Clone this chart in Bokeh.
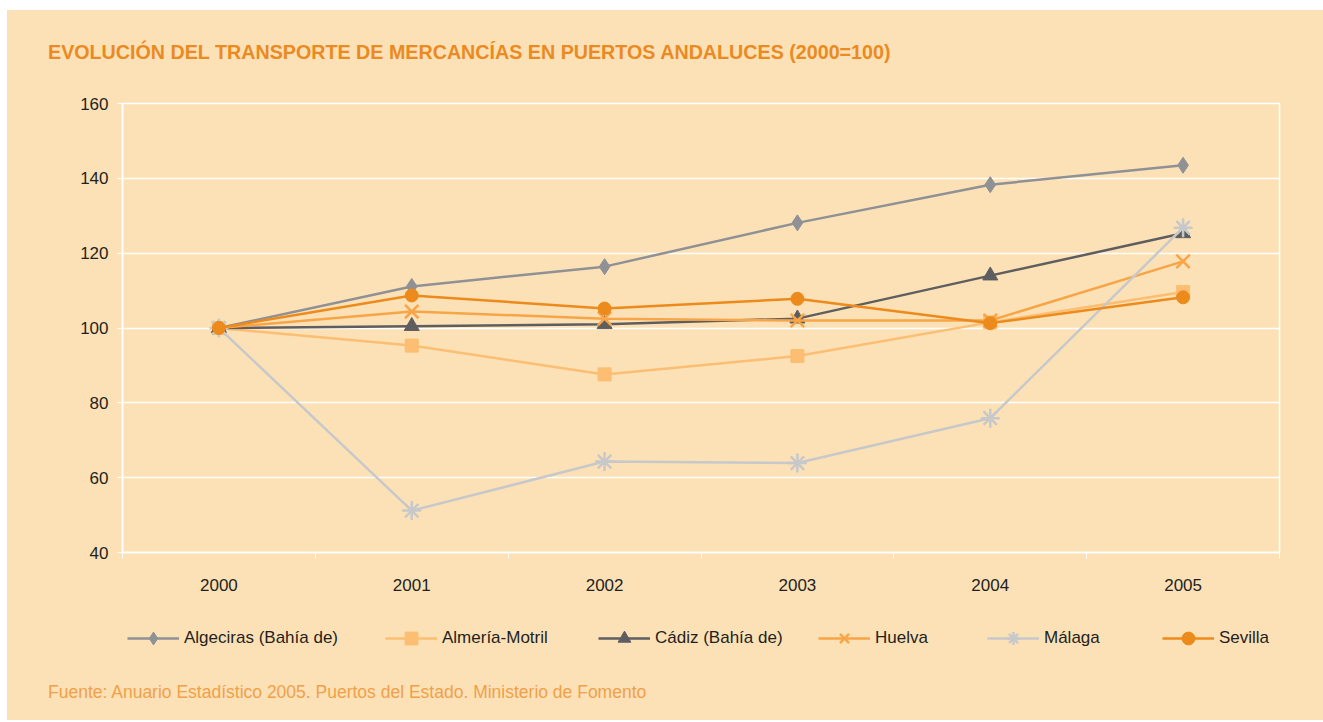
from bokeh.plotting import figure
from bokeh.layouts import column
from bokeh.models import FixedTicker, Legend, LegendItem, Range1d, Div
from bokeh.embed import file_html
from bokeh.resources import INLINE

years = [2000, 2001, 2002, 2003, 2004, 2005]
year_labels = ["2000", "2001", "2002", "2003", "2004", "2005"]
algeciras = [100, 111.1, 116.4, 128.1, 138.3, 143.5]
almeria = [100, 95.3, 87.6, 92.5, 101.5, 109.6]
cadiz = [100, 100.5, 101.0, 102.5, 114.0, 125.3]
huelva = [100, 104.4, 102.5, 102.0, 102.0, 117.8]
malaga = [100, 51.2, 64.3, 63.9, 75.9, 126.8]
sevilla = [100, 108.7, 105.2, 107.8, 101.3, 108.2]
y_ticks = [40, 60, 80, 100, 120, 140, 160]
title_text = "EVOLUCIÓN DEL TRANSPORTE DE MERCANCÍAS EN PUERTOS ANDALUCES (2000=100)"
source_text = "Fuente: Anuario Estadístico 2005. Puertos del Estado. Ministerio de Fomento"

BG = "#FDE1B6"
FONT = "Liberation Sans"
W = 1316
H_HEAD, H_MAIN, H_LEG, H_FOOT = 83, 507, 60, 60
ML, MR = 115, 44
# horizontal offsets (px from the plot frame's left edge) of the legend entries
LEGEND_X = [5, 263, 476, 696, 865, 1040]

head = Div(width=W, height=H_HEAD, margin=0,
           text=('<div style="width:%dpx;height:%dpx;box-sizing:border-box;padding:30px 0 0 41px;'
                 'background:%s;font-family:\'%s\';font-size:19.7px;font-weight:bold;'
                 'line-height:24px;color:#EA8A22;white-space:nowrap;">%s</div>'
                 % (W, H_HEAD, BG, FONT, title_text)))

p = figure(width=W, height=H_MAIN, output_backend="svg", toolbar_location=None,
           x_range=Range1d(1999.5, 2005.5), y_range=Range1d(40, 160),
           min_border_left=ML, min_border_right=MR, min_border_top=10, min_border_bottom=48)
p.background_fill_color = None
p.border_fill_color = BG
p.outline_line_color = "white"
p.outline_line_width = 1.5

p.xgrid.visible = False
p.ygrid.grid_line_color = "white"
p.ygrid.grid_line_width = 1.5
p.ygrid.ticker = FixedTicker(ticks=y_ticks)

p.xaxis.ticker = FixedTicker(ticks=years, minor_ticks=[y + 0.5 for y in [1999] + years])
p.xaxis.major_label_overrides = {y: l for y, l in zip(years, year_labels)}
p.yaxis.ticker = FixedTicker(ticks=y_ticks)
for ax in (p.xaxis[0], p.yaxis[0]):
    ax.axis_line_color = "white"
    ax.axis_line_width = 1.5
    ax.major_tick_line_color = "white"
    ax.minor_tick_line_color = "white"
    ax.major_label_text_font = FONT
    ax.major_label_text_font_size = "17px"
    ax.major_label_text_color = "#231F20"
p.xaxis.major_tick_out = 0
p.xaxis.major_tick_in = 0
p.xaxis.minor_tick_out = 6
p.xaxis.minor_tick_in = 0
p.xaxis.major_label_standoff = 20
p.yaxis.major_tick_out = 5
p.yaxis.major_tick_in = 0
p.yaxis.minor_tick_out = 0
p.yaxis.minor_tick_in = 0
p.yaxis.major_label_standoff = 9

series = [
    ("Algeciras (Bahía de)", algeciras, "#8F9194", "diamond", 16),
    ("Almería-Motril", almeria, "#FBBE72", "square", 13),
    ("Cádiz (Bahía de)", cadiz, "#5E5E60", "triangle", 15),
    ("Huelva", huelva, "#F7A547", "x", 19),
    ("Málaga", malaga, "#C7C8CA", "asterisk", 19),
    ("Sevilla", sevilla, "#EC8A1C", "circle", 13),
]

# legend strip: same series drawn into a frame whose y-range excludes them
leg = figure(width=W, height=H_LEG, output_backend="svg", toolbar_location=None,
             x_range=Range1d(1999.5, 2005.5), y_range=Range1d(0, 1),
             min_border_left=ML, min_border_right=MR, min_border_top=0, min_border_bottom=0)
leg.axis.visible = False
leg.grid.visible = False
leg.outline_line_color = None
leg.background_fill_color = None
leg.border_fill_color = BG

for (name, vals, col, mk, sz), lx in zip(series, LEGEND_X):
    kw = dict(size=sz, marker=mk, line_color=col, fill_color=col)
    if mk in ("x", "asterisk"):
        kw["line_width"] = 2.5
    p.line(years, vals, line_color=col, line_width=2.5)
    p.scatter(years, vals, **kw)
    l1 = leg.line(years, vals, line_color=col, line_width=2.5)
    l2 = leg.scatter(years, vals, **kw)
    lg = Legend(items=[LegendItem(label=name, renderers=[l1, l2])],
                location=(lx, H_LEG - 38 - 16),
                background_fill_alpha=0, border_line_alpha=0, padding=0, margin=0,
                glyph_width=52, glyph_height=32, label_standoff=5,
                label_text_font=FONT, label_text_font_size="17px", label_text_color="#231F20",
                label_text_baseline="middle")
    leg.add_layout(lg, "center")

foot = Div(width=W, height=H_FOOT, margin=0,
           text=('<div style="width:%dpx;height:%dpx;box-sizing:border-box;padding:22px 0 0 41px;'
                 'background:%s;font-family:\'%s\';font-size:17.5px;'
                 'line-height:20px;color:#F0A048;white-space:nowrap;">%s</div>'
                 % (W, H_FOOT, BG, FONT, source_text)))

layout = column(head, p, leg, foot, spacing=0, margin=(10, 0, 0, 7),
                styles={"background-color": BG})
open("out.html", "w").write(file_html(layout, INLINE))
